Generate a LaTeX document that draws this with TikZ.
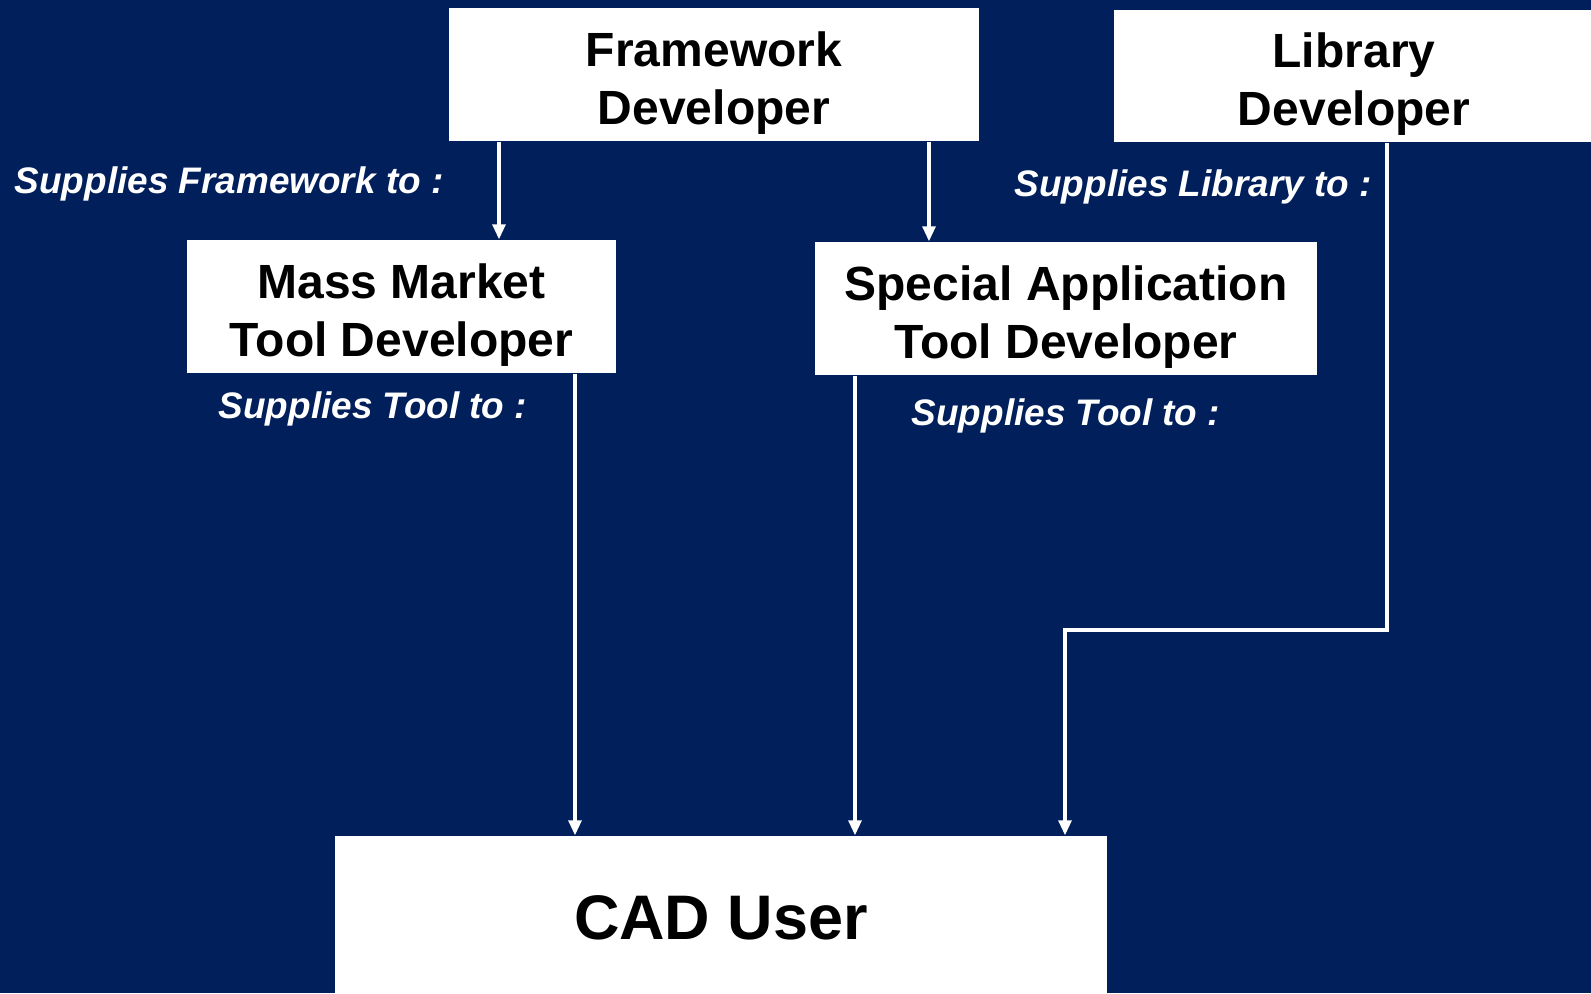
\documentclass[tikz,border=0pt]{standalone}
\usepackage{fontspec}
\setmainfont{Liberation Sans}
\usetikzlibrary{arrows.meta,positioning}
\definecolor{navy}{RGB}{0,31,91}
\newcommand{\boxtop}{\rule{0pt}{0.51cm}}
\tikzset{>={Triangle[width=1.3mm,length=1.5mm]}}
\tikzstyle{role}=[rectangle,fill=white,text=black,font=\fontsize{13.65}{16.5}\selectfont\bfseries,align=center,inner sep=0pt,minimum height=1.33cm]
\tikzstyle{user}=[rectangle,fill=white,text=black,font=\fontsize{17.9}{21}\selectfont\bfseries,inner sep=0pt,minimum height=1.64cm]
\tikzstyle{supply}=[text=white,font=\fontsize{10.5}{12.5}\selectfont\bfseries\itshape,inner sep=0pt,anchor=west]
\tikzstyle{feed}=[->,draw=white,line width=0.9pt]

\begin{document}
\begin{tikzpicture}[x=0.01cm,y=-0.01cm]
	\fill[navy] (0,0) rectangle (1591,993);
	\useasboundingbox (0,0) rectangle (1591,993);

	% developer boxes
	\node[role,minimum width=5.30cm] (fw) at (714,74.5) {\boxtop Framework\\Developer};
	\node[role,minimum width=4.80cm,minimum height=1.32cm] (lib) at (1354,76) {\boxtop Library\\Developer};
	\node[role,minimum width=4.29cm] (mm) at (401.5,306.5) {\boxtop Mass Market\\Tool Developer};
	\node[role,minimum width=5.02cm] (sp) at (1066,308.5) {\boxtop Special Application\\Tool Developer};
	\node[user,minimum width=7.71cm] (cad) at (721,918) {CAD User};

	% what each one hands on
	\node[supply] (supfw) at (14,184) {Supplies Framework to :};
	\node[supply] (suplib) at (1014,187) {Supplies Library to :};
	\foreach \name/\x/\y in {mm/218/409, sp/911/416} {
		\node[supply] (sup\name) at (\x,\y) {Supplies Tool to :};
	};

	% x positions of the arrows
	\coordinate (xfm) at (499,0);
	\coordinate (xfs) at (929,0);
	\coordinate (xmc) at (575,0);
	\coordinate (xsc) at (855,0);
	\coordinate (lbend) at (1387,630);
	\coordinate (ldrop) at (1065,630);

	\draw[feed] (xfm |- fw.south) -- (xfm |- mm.north);
	\draw[feed] (xfs |- fw.south) -- (xfs |- sp.north);
	\draw[feed] (xmc |- mm.south) -- (xmc |- cad.north);
	\draw[feed] (xsc |- sp.south) -- (xsc |- cad.north);
	\draw[feed] (lbend |- lib.south) |- (ldrop) -- (ldrop |- cad.north);
\end{tikzpicture}
\end{document}
